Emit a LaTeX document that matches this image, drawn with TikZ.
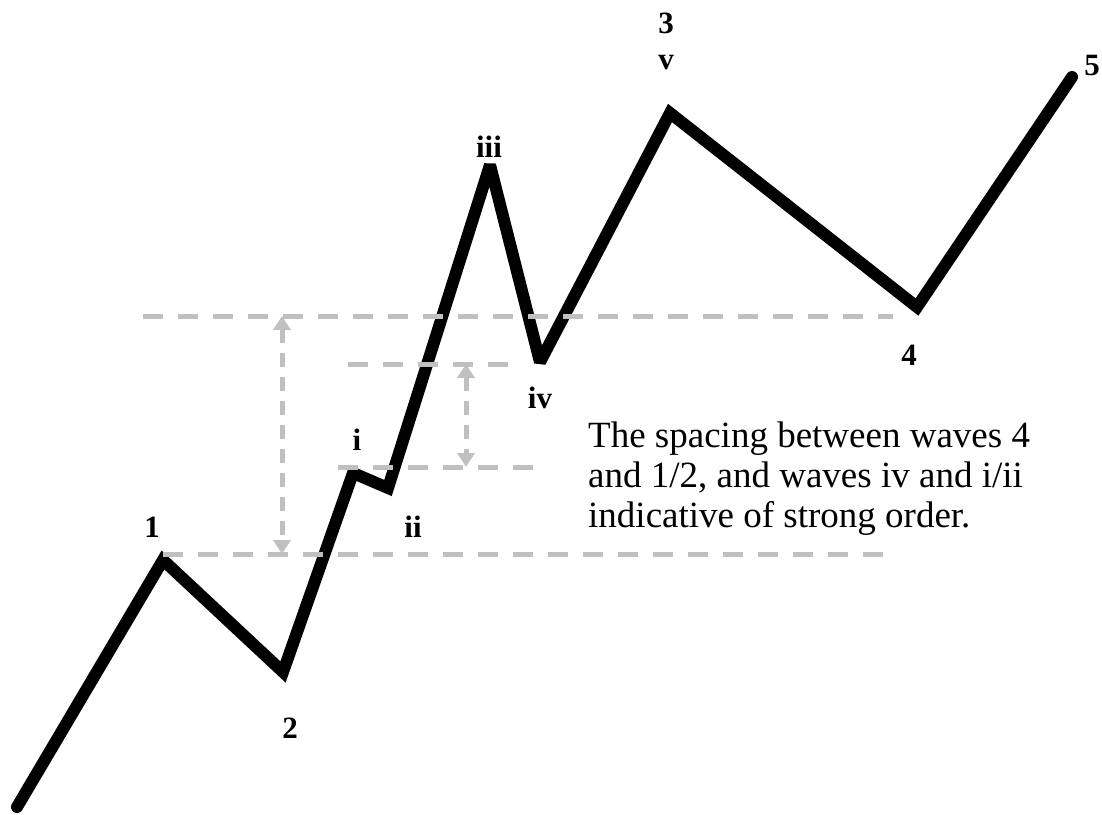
\documentclass[tikz,border=0pt]{standalone}
\usepackage{fontspec}
\setmainfont{Liberation Serif}
\usetikzlibrary{arrows.meta}
\definecolor{guidegray}{RGB}{192,192,192}

\begin{document}
\begin{tikzpicture}[
    x=1pt, y=-1pt,
    wave/.style={line width=12pt, line join=miter, miter limit=2, line cap=round},
    guide/.style={draw=guidegray, line width=5pt, dash pattern=on 20pt off 15pt},
    guidearrow/.style={draw=guidegray, line width=5pt, dash pattern=on 14pt off 10pt,
        {Triangle[width=17pt,length=14pt,fill=guidegray]}-{Triangle[width=17pt,length=14pt,fill=guidegray]}},
    lbl/.style={font=\fontsize{31}{34}\selectfont\bfseries, inner sep=0pt},
    note/.style={font=\fontsize{37}{40}\selectfont, align=left, inner sep=0pt}
]
\useasboundingbox (0,0) rectangle (1102,814);

% Points de la vague
\coordinate (w0) at (17,807);
\coordinate (w1) at (163,560);
\coordinate (w2) at (283,672);
\coordinate (wi) at (353,473);
\coordinate (wii) at (388,488);
\coordinate (wiii) at (490,165);
\coordinate (wiv) at (540,362);
\coordinate (w3) at (670,113);
\coordinate (w4) at (917,307);
\coordinate (w5) at (1072,77);

% Vague
\draw[wave] (w0) -- (w1) -- (w2) -- (wi) -- (wii) -- (wiii) -- (wiv) -- (w3) -- (w4) -- (w5);

% Lignes de repere
\coordinate (topL) at (143,316);
\coordinate (topR) at (893,316);
\coordinate (midtopL) at (348,364);
\coordinate (midtopR) at (510,364);
\coordinate (midbotL) at (338,467);
\coordinate (midbotR) at (537,467);
\coordinate (botL) at (163,554);
\coordinate (botR) at (883,554);
\draw[guide] (topL) -- (topR);
\draw[guide] (midtopL) -- (midtopR);
\draw[guide] (midbotL) -- (midbotR);
\draw[guide] (botL) -- (botR);

% Fleches d'ecart
\coordinate (bigtop) at (282,316);
\coordinate (bigbot) at (282,554);
\coordinate (smalltop) at (466,364);
\coordinate (smallbot) at (466,467);
\draw[guidearrow] (bigtop) -- (bigbot);
\draw[guidearrow] (smalltop) -- (smallbot);

% Etiquettes
\node[lbl] (l1) at (152,527) {1};
\node[lbl] (l2) at (290,728) {2};
\node[lbl] (li) at (357,440) {i};
\node[lbl] (lii) at (413,527) {ii};
\node[lbl] (liii) at (489,147) {iii};
\node[lbl] (liv) at (540,398) {iv};
\node[lbl] (l3) at (666,23) {3};
\node[lbl] (lv) at (666,63) {v};
\node[lbl] (l4) at (909,355) {4};
\node[lbl] (l5) at (1092,65) {5};

% Texte
\node[note, anchor=base west] (txt) at (588,527) {The spacing between waves 4\\and 1/2, and waves iv and i/ii\\indicative of strong order.};

\end{tikzpicture}
\end{document}
